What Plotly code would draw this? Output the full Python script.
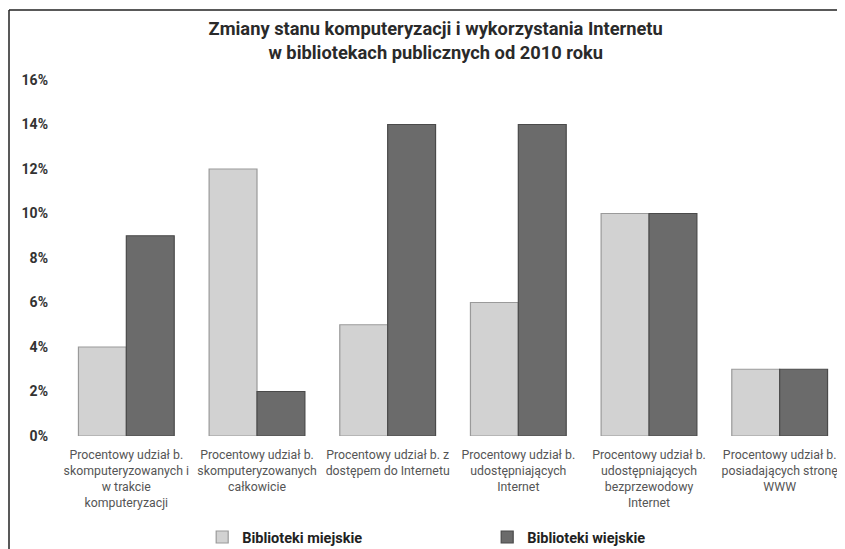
import plotly.graph_objects as go

categories = [
    "Procentowy udział b.<br>skomputeryzowanych i<br>w trakcie<br>komputeryzacji",
    "Procentowy udział b.<br>skomputeryzowanych<br>całkowicie",
    "Procentowy udział b. z<br>dostępem do Internetu",
    "Procentowy udział b.<br>udostępniających<br>Internet",
    "Procentowy udział b.<br>udostępniających<br>bezprzewodowy<br>Internet",
    "Procentowy udział b.<br>posiadających stronę<br>WWW",
]
miejskie = [0.04, 0.12, 0.05, 0.06, 0.10, 0.03]
wiejskie = [0.09, 0.02, 0.14, 0.14, 0.10, 0.03]
series_names = ["Biblioteki miejskie", "Biblioteki wiejskie"]
tick_vals = [0, 0.02, 0.04, 0.06, 0.08, 0.10, 0.12, 0.14, 0.16]

FONT = "Roboto, Liberation Sans, sans-serif"
W, H = 837, 541
L, R, T, B = 53, 0, 72, 113
PW, PH = W - L - R, H - T - B

fig = go.Figure()
fig.add_trace(go.Bar(
    x=categories, y=miejskie, name=series_names[0],
    marker=dict(color="#d2d2d2", line=dict(color="#9a9a9a", width=1.2)),
))
fig.add_trace(go.Bar(
    x=categories, y=wiejskie, name=series_names[1],
    marker=dict(color="#6b6b6b", line=dict(color="#4a4a4a", width=1.2)),
))

fig.update_layout(
    width=W, height=H,
    margin=dict(l=L, r=R, t=T, b=B, autoexpand=False),
    paper_bgcolor="white", plot_bgcolor="white",
    barmode="group", bargap=0.267, bargroupgap=0,
    title=dict(
        text="<b>Zmiany stanu komputeryzacji i wykorzystania Internetu<br>w bibliotekach publicznych od 2010 roku</b>",
        xref="container", yref="container",
        x=0.511, xanchor="center", y=0.9506, yanchor="top",
        font=dict(family=FONT, size=18.3, color="#2a2a2a"),
    ),
    font=dict(family=FONT, color="#333333"),
    showlegend=True,
    legend=dict(
        orientation="h", xref="container", yref="container",
        x=0.232, xanchor="left", y=0.022, yanchor="middle",
        font=dict(family=FONT, size=14.5, color="#222222", weight="bold"),
        entrywidth=240, entrywidthmode="pixels",
        traceorder="normal",
    ),
)
fig.update_yaxes(
    range=[0, 0.16], tickvals=tick_vals, tickformat=".0%",
    showgrid=False, zeroline=False, showline=False,
    tickfont=dict(family=FONT, size=14, color="#333333", weight="bold"),
    ticks="", ticklabelstandoff=12,
)
fig.update_xaxes(
    showgrid=False, showline=False, ticks="",
    tickfont=dict(family=FONT, size=12.3, color="#555555"),
    tickangle=0, ticklabelstandoff=10,
)

# frame lines (top and left border of the original picture)
fx = (1 - L) / PW
fy = (T + PH - 2) / PH
fig.add_shape(type="line", xref="paper", yref="paper",
              x0=fx, x1=1.02, y0=fy, y1=fy,
              line=dict(color="#222222", width=1.5))
fig.add_shape(type="line", xref="paper", yref="paper",
              x0=fx, x1=fx, y0=fy, y1=-0.4,
              line=dict(color="#222222", width=1.5))

fig.write_html("out.html")
